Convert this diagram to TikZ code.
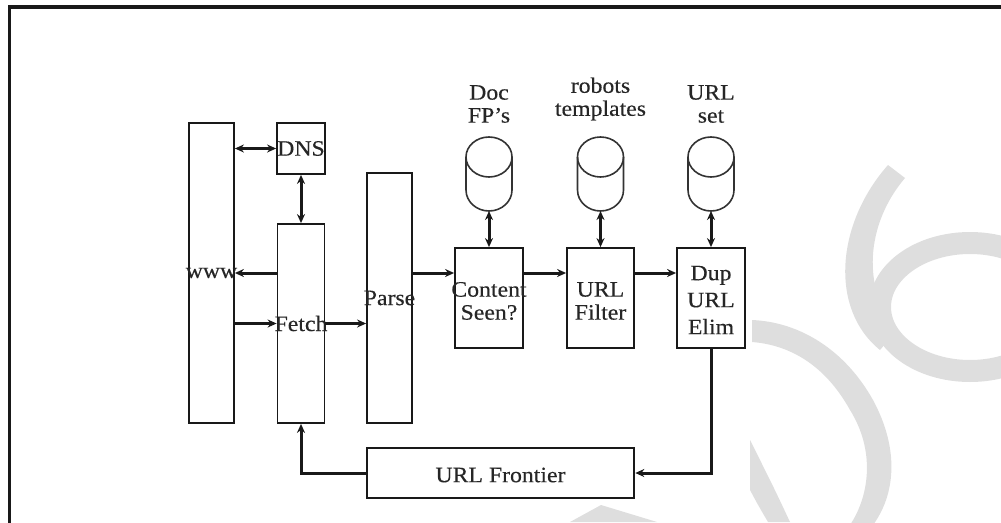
\documentclass[tikz,border=0pt]{standalone}
\usepackage{fontspec}
\setmainfont{Liberation Serif}[FakeStretch=1.08,FakeBold=0.3]
\usetikzlibrary{arrows.meta,calc}
\begin{document}
\begin{tikzpicture}[x=1pt,y=-1pt,
  box/.style={draw=black!90, line width=1.8pt, inner sep=0pt},
  txt/.style={align=center, inner sep=0pt, text=black!85, font=\fontsize{22}{23}\selectfont},
  conn/.style={line width=3pt, draw=black!90, -{Stealth[length=9pt,width=8pt]}},
  dconn/.style={line width=3pt, draw=black!90, {Stealth[length=9pt,width=8pt]}-{Stealth[length=9pt,width=8pt]}},
  cyl/.style={line width=1.6pt, draw=black!80},
  wm/.style={fill=black!13}]
\useasboundingbox (0,0) rectangle (1001,522);
% watermark
\begin{scope}
\clip (0,0) rectangle (1001,522);
\fill[wm] (888,165) .. controls (835,225) and (830,310) .. (880,350) -- (897,330) .. controls (862,290) and (865,225) .. (905,178) -- cycle;
\draw[draw=black!13, line width=22pt] (970,307) ellipse [x radius=90, y radius=64];
\fill[wm] (752,320) .. controls (800,322) and (845,350) .. (873,400) .. controls (900,450) and (895,495) .. (873,525) -- (850,525) .. controls (870,495) and (875,450) .. (850,410) .. controls (825,365) and (790,345) .. (752,342) -- cycle;
\fill[wm] (750,440) -- (750,490) .. controls (758,505) .. (768,522) -- (790,522) .. controls (775,490) .. (750,440) -- cycle;
\fill[wm] (601,505) -- (657,522) -- (570,522) -- cycle;
\end{scope}
% frame
\draw[line width=3.5pt, black!90] (9.5,530) -- (9.5,7) -- (1010,7);
% boxes
\node[box, minimum width=45pt, minimum height=300pt, label={[txt]center:www}] (www) at (211.5,273) {};
\node[box, minimum width=48pt, minimum height=51pt, label={[txt]center:DNS}] (dns) at (301,148.5) {};
\node[box, minimum width=47pt, minimum height=199pt, label={[txt]center:Fetch}] (fetch) at (301,323.5) {};
\node[box, minimum width=45pt, minimum height=250pt, label={[txt]center:Parse}] (parse) at (389.5,298) {};
\node[box, minimum width=68pt, minimum height=100pt, label={[txt, yshift=-3pt]center:Content\\Seen?}] (content) at (489,298) {};
\node[box, minimum width=67pt, minimum height=100pt, label={[txt, yshift=-3pt]center:URL\\Filter}] (filter) at (600.5,298) {};
\node[box, minimum width=68pt, minimum height=100pt, label={[txt, yshift=-2pt]center:Dup\\[4pt]URL\\[4pt]Elim}] (dup) at (711,298) {};
\node[box, line width=2.6pt, minimum width=267pt, minimum height=50pt, label={[txt, yshift=-2pt]center:URL Frontier}] (frontier) at (500.5,473) {};
% cylinders
\foreach \cx/\nm in {489/cyla, 600.5/cylb, 711/cylc}{
  \draw[cyl] (\cx,157) ellipse [x radius=23, y radius=20];
  \draw[cyl] (\cx-23,157) -- (\cx-23,190) arc[start angle=180, end angle=0, x radius=23, y radius=21] -- (\cx+23,157);
  \coordinate (\nm) at (\cx,211);
}
\node[txt] (lbla) at (489,104) {Doc\\FP's};
\node[txt] (lblb) at (600.5,99) {robots\\templates};
\node[txt] (lblc) at (711,104) {URL\\set};
% connectors
\coordinate (row) at (0,273);
\draw[dconn] (www.east |- dns) -- (dns.west);
\draw[dconn] (dns.south) -- (dns.south |- fetch.north);
\draw[conn] (fetch.west |- row) -- (www.east |- row);
\draw[conn] (www.east |- fetch) -- (fetch.west);
\draw[conn] (fetch.east) -- (parse.west |- fetch.east);
\draw[conn] (parse.east |- row) -- (content.west |- row);
\draw[conn] (content.east |- row) -- (filter.west |- row);
\draw[conn] (filter.east |- row) -- (dup.west |- row);
\draw[dconn] (cyla) -- (content.north);
\draw[dconn] (cylb) -- (filter.north);
\draw[dconn] (cylc) -- (dup.north);
\draw[conn] (dup.south) |- (frontier.east);
\draw[conn] (frontier.west) -| (fetch.south);
\end{tikzpicture}
\end{document}
